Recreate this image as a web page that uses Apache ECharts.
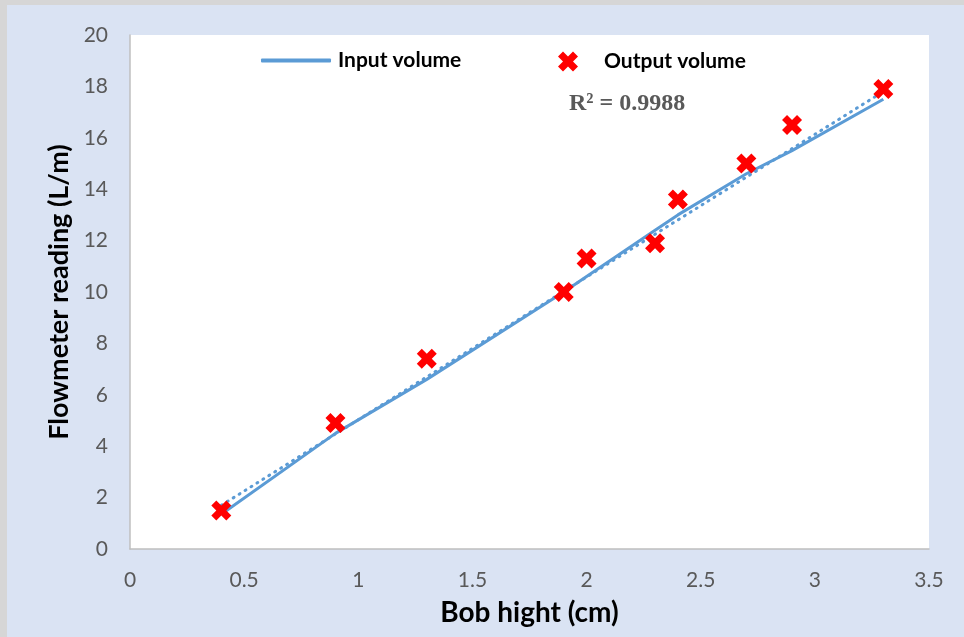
<!DOCTYPE html>
<html>
<head>
<meta charset="utf-8">
<script src="https://cdn.jsdelivr.net/npm/echarts@6/dist/echarts.min.js"></script>
<style>
  html, body { margin: 0; padding: 0; background: #dae3f3; }
  #main { width: 964px; height: 637px; }
</style>
</head>
<body>
<div id="main"></div>
<script>
// bob height (cm)
var bobHeight = [0.4, 0.9, 1.3, 1.9, 2.0, 2.3, 2.4, 2.7, 2.9, 3.3];
// flowmeter readings (L/m)
var inputVolume = [1.35, 4.5, 6.6, 10.0, 10.6, 12.4, 13.0, 14.6, 15.5, 17.5];
var outputVolume = [1.5, 4.9, 7.4, 10.0, 11.3, 11.9, 13.6, 15.0, 16.5, 17.9];
// dotted linear trend of output volume, end points
var trendX = [0.4, 3.3];
var trendY = [1.7, 17.8];
var xTicks = [0, 0.5, 1, 1.5, 2, 2.5, 3, 3.5];
var yTicks = [0, 2, 4, 6, 8, 10, 12, 14, 16, 18, 20];

var pairs = function (xs, ys) {
  return xs.map(function (x, i) { return [x, ys[i]]; });
};

// thick red "X" like the excel marker
var crossPath = 'path://M0,2.5 L2.5,0 L5,2.5 L7.5,0 L10,2.5 L7.5,5 L10,7.5 L7.5,10 L5,7.5 L2.5,10 L0,7.5 L2.5,5 Z';
var blue = '#5b9bd5';
var labelFont = 'Lato, "Open Sans", sans-serif';

var chart = echarts.init(document.getElementById('main'));
chart.setOption({
  backgroundColor: '#dae3f3',
  animation: false,
  grid: { left: 130, top: 35, right: 35, bottom: 88, show: true, backgroundColor: '#fff', borderWidth: 0 },
  graphic: [
    { type: 'rect', left: 0, top: 0, shape: { width: 964, height: 5 }, style: { fill: '#d6d6d6' } },
    { type: 'rect', left: 0, top: 0, shape: { width: 7, height: 637 }, style: { fill: '#d6d6d6' } },
    {
      type: 'text', left: 569, top: 92,
      style: { text: 'R² = 0.9988', font: 'bold 24px "Liberation Serif", "DejaVu Serif", serif', fill: '#595959' }
    }
  ],
  legend: [
    {
      data: [{ name: 'Input volume', icon: 'roundRect' }], left: 256, top: 45, itemWidth: 70, itemHeight: 4,
      itemStyle: { color: blue },
      textStyle: { fontFamily: labelFont, fontWeight: 'bold', fontSize: 21, color: '#000', padding: [0, 0, 0, 2] }
    },
    {
      data: ['Output volume'], left: 553, top: 46, itemWidth: 20, itemHeight: 20,
      textStyle: { fontFamily: labelFont, fontWeight: 'bold', fontSize: 21, color: '#000', padding: [0, 0, 0, 21] }
    }
  ],
  xAxis: {
    type: 'value', min: 0, max: 3.5, interval: 0.5,
    name: 'Bob hight (cm)', nameLocation: 'middle', nameGap: 50,
    nameTextStyle: { fontFamily: labelFont, fontWeight: 'bold', fontSize: 28, color: '#000' },
    axisLine: { show: true, lineStyle: { color: '#bfbfbf', width: 1.5 } },
    axisTick: { show: false },
    splitLine: { show: false },
    axisLabel: {
      margin: 21, fontFamily: labelFont, fontSize: 21, color: '#595959',
      customValues: xTicks,
      formatter: function (v) { return String(v); }
    }
  },
  yAxis: {
    type: 'value', min: 0, max: 20, interval: 2,
    name: 'Flowmeter reading (L/m)', nameLocation: 'middle', nameGap: 56,
    nameTextStyle: { fontFamily: labelFont, fontWeight: 'bold', fontSize: 27, color: '#000' },
    axisLine: { show: true, lineStyle: { color: '#bfbfbf', width: 1.5 } },
    axisTick: { show: false },
    splitLine: { show: false },
    axisLabel: {
      margin: 22, fontFamily: labelFont, fontSize: 21, color: '#595959',
      customValues: yTicks
    }
  },
  series: [
    {
      name: 'Input volume', type: 'line', data: pairs(bobHeight, inputVolume),
      showSymbol: false, symbol: 'none', z: 3,
      lineStyle: { color: blue, width: 3 }, itemStyle: { color: blue }
    },
    {
      name: 'trend', type: 'line', data: pairs(trendX, trendY),
      showSymbol: false, symbol: 'none', z: 2, silent: true,
      lineStyle: { color: blue, width: 3, type: [1, 6], cap: 'round' }
    },
    {
      name: 'Output volume', type: 'scatter', data: pairs(bobHeight, outputVolume),
      symbol: crossPath, symbolSize: 20, z: 4,
      itemStyle: { color: '#ff0000', opacity: 1 }
    }
  ]
});
</script>
</body>
</html>
